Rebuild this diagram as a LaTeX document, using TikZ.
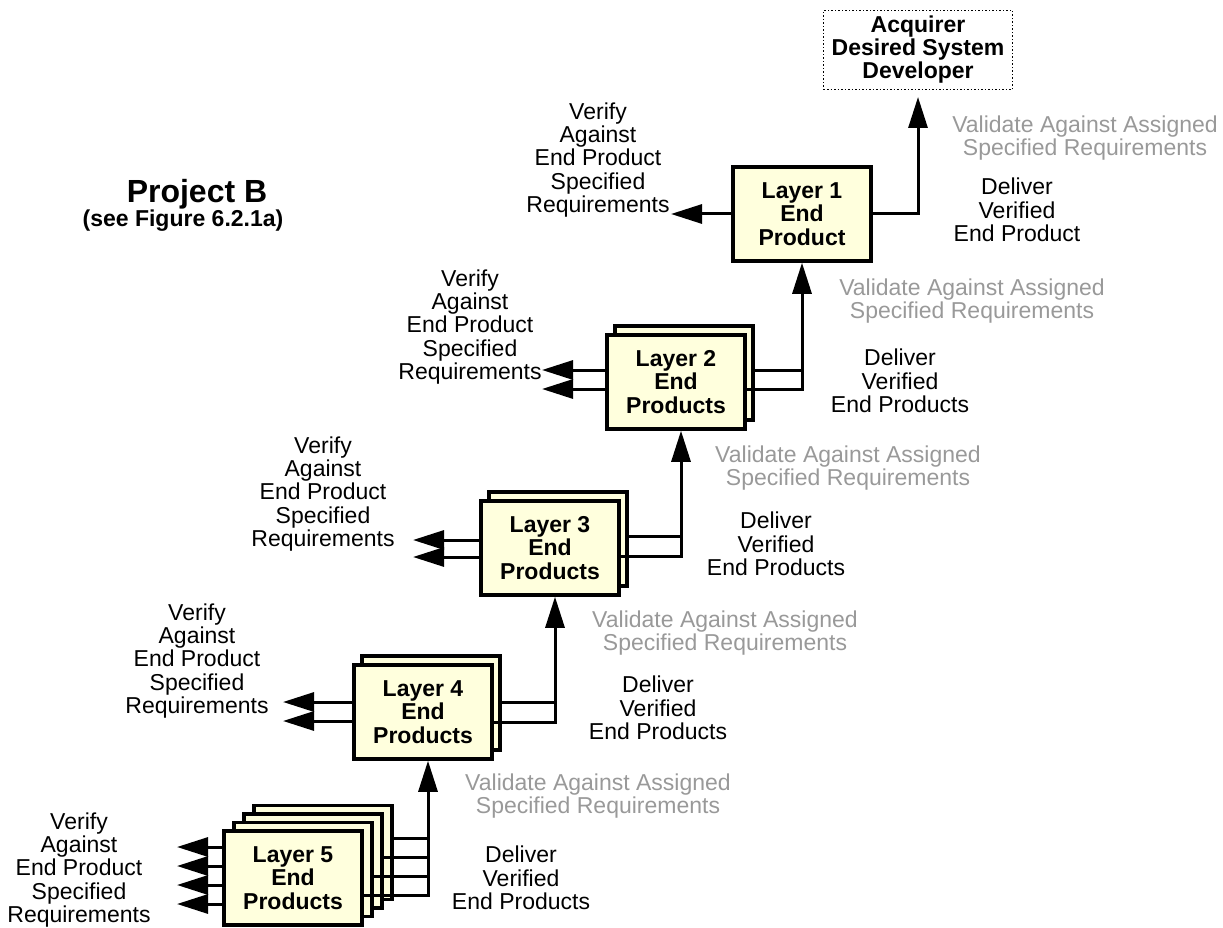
\documentclass[tikz,border=0pt]{standalone}
\usepackage{fontspec}
\setmainfont{Liberation Sans}
\usetikzlibrary{arrows.meta,calc}
\definecolor{boxfill}{RGB}{255,255,221}
\definecolor{valgray}{RGB}{153,153,153}
\begin{document}
\begin{tikzpicture}[x=1pt,y=-1pt,
  layerbox/.style={draw=black, line width=3.5pt, fill=boxfill, minimum width=138pt,
    minimum height=94pt, inner sep=0pt, align=center,
    font=\fontsize{23}{23.5}\selectfont\bfseries},
  conn/.style={line width=3pt},
  arr/.style={-{Triangle[length=31pt,width=19pt]}},
  lbl/.style={align=center, inner sep=0pt, font=\fontsize{23}{23.4}\selectfont},
  vlbl/.style={lbl, text=valgray},
  topbox/.style={draw=black, line width=1pt, dash pattern=on 1.5pt off 2pt,
    minimum width=189pt, minimum height=79pt, inner sep=0pt, align=center,
    font=\fontsize{23}{23}\selectfont\bfseries}
]
\useasboundingbox (0,0) rectangle (1223,928);

% title
\node[font=\fontsize{32}{34}\selectfont\bfseries, inner sep=0pt] (projb) at (197,194) {Project B};
\node[font=\fontsize{23}{24}\selectfont\bfseries, inner sep=0pt] (seefig) at (183,221) {(see Figure 6.2.1a)};

% top box
\node[topbox] (top) at (918,50) {Acquirer\\Desired System\\Developer};

% Layer 1
\node[layerbox] (L1) at (802,214) {Layer 1\\End\\Product};
\coordinate (j1) at (918,214);
\coordinate (v1) at (671,214);
\draw[conn,arr,shorten >=7pt] (L1.east |- j1) -- (j1) -- (j1 |- top.south);
\draw[conn,arr] (L1.west |- v1) -- (v1);

% Layer 2
\node[layerbox] (L2b) at (684,373) {};
\node[layerbox] (L2a) at (676,382) {Layer 2\\End\\Products};
\coordinate (j2b) at (802,370);
\coordinate (j2a) at (802,389);
\coordinate (v2b) at (542,370);
\coordinate (v2a) at (542,389);
\draw[conn] (L2b.east |- j2b) -- (j2b);
\draw[conn,arr] (L2a.east |- j2a) -- (j2a) -- (j2a |- L1.south);
\draw[conn,arr] (L2a.west |- v2b) -- (v2b);
\draw[conn,arr] (L2a.west |- v2a) -- (v2a);

% Layer 3
\node[layerbox] (L3b) at (558,539) {};
\node[layerbox] (L3a) at (550,548) {Layer 3\\End\\Products};
\coordinate (j3b) at (681,536);
\coordinate (j3a) at (681,556);
\coordinate (v3b) at (413,540);
\coordinate (v3a) at (413,557);
\draw[conn] (L3b.east |- j3b) -- (j3b);
\draw[conn,arr] (L3a.east |- j3a) -- (j3a) -- (j3a |- L2a.south);
\draw[conn,arr] (L3a.west |- v3b) -- (v3b);
\draw[conn,arr] (L3a.west |- v3a) -- (v3a);

% Layer 4
\node[layerbox] (L4b) at (431,703) {};
\node[layerbox] (L4a) at (423,712) {Layer 4\\End\\Products};
\coordinate (j4b) at (555,702);
\coordinate (j4a) at (555,722);
\coordinate (v4b) at (283,702);
\coordinate (v4a) at (283,721);
\draw[conn] (L4b.east |- j4b) -- (j4b);
\draw[conn,arr] (L4a.east |- j4a) -- (j4a) -- (j4a |- L3a.south);
\draw[conn,arr] (L4a.west |- v4b) -- (v4b);
\draw[conn,arr] (L4a.west |- v4a) -- (v4a);

% Layer 5
\node[layerbox] (L5d) at (323,852.5) {};
\node[layerbox] (L5c) at (313,861) {};
\node[layerbox] (L5b) at (303,869.5) {};
\node[layerbox] (L5a) at (293,878) {Layer 5\\End\\Products};
\coordinate (j5d) at (428,838);
\coordinate (j5c) at (428,857);
\coordinate (j5b) at (428,876);
\coordinate (j5a) at (428,895);
\coordinate (v5d) at (177,847);
\coordinate (v5c) at (177,866);
\coordinate (v5b) at (177,885);
\coordinate (v5a) at (177,904);
\draw[conn] (L5d.east |- j5d) -- (j5d);
\draw[conn] (L5c.east |- j5c) -- (j5c);
\draw[conn] (L5b.east |- j5b) -- (j5b);
\draw[conn,arr] (L5a.east |- j5a) -- (j5a) -- (j5a |- L4a.south);
\draw[conn,arr] (L5a.west |- v5d) -- (v5d);
\draw[conn,arr] (L5a.west |- v5c) -- (v5c);
\draw[conn,arr] (L5a.west |- v5b) -- (v5b);
\draw[conn,arr] (L5a.west |- v5a) -- (v5a);

% verify labels
\node[lbl] (ver1) at (598,160) {Verify\\Against\\End Product\\Specified\\Requirements};
\node[lbl] (ver2) at (470,327) {Verify\\Against\\End Product\\Specified\\Requirements};
\node[lbl] (ver3) at (323,494) {Verify\\Against\\End Product\\Specified\\Requirements};
\node[lbl] (ver4) at (197,661) {Verify\\Against\\End Product\\Specified\\Requirements};
\node[lbl] (ver5) at (79,870) {Verify\\Against\\End Product\\Specified\\Requirements};

% deliver labels
\node[lbl] (del1) at (1017,210) {Deliver\\Verified\\End Product};
\node[lbl] (del2) at (900,381) {Deliver\\Verified\\End Products};
\node[lbl] (del3) at (776,544) {Deliver\\Verified\\End Products};
\node[lbl] (del4) at (658,708) {Deliver\\Verified\\End Products};
\node[lbl] (del5) at (521,878) {Deliver\\Verified\\End Products};

% validate labels
\node[vlbl] (val1) at (1085,138) {Validate Against Assigned\\Specified Requirements};
\node[vlbl] (val2) at (972,301) {Validate Against Assigned\\Specified Requirements};
\node[vlbl] (val3) at (848,468) {Validate Against Assigned\\Specified Requirements};
\node[vlbl] (val4) at (725,633) {Validate Against Assigned\\Specified Requirements};
\node[vlbl] (val5) at (598,796) {Validate Against Assigned\\Specified Requirements};
\end{tikzpicture}
\end{document}
